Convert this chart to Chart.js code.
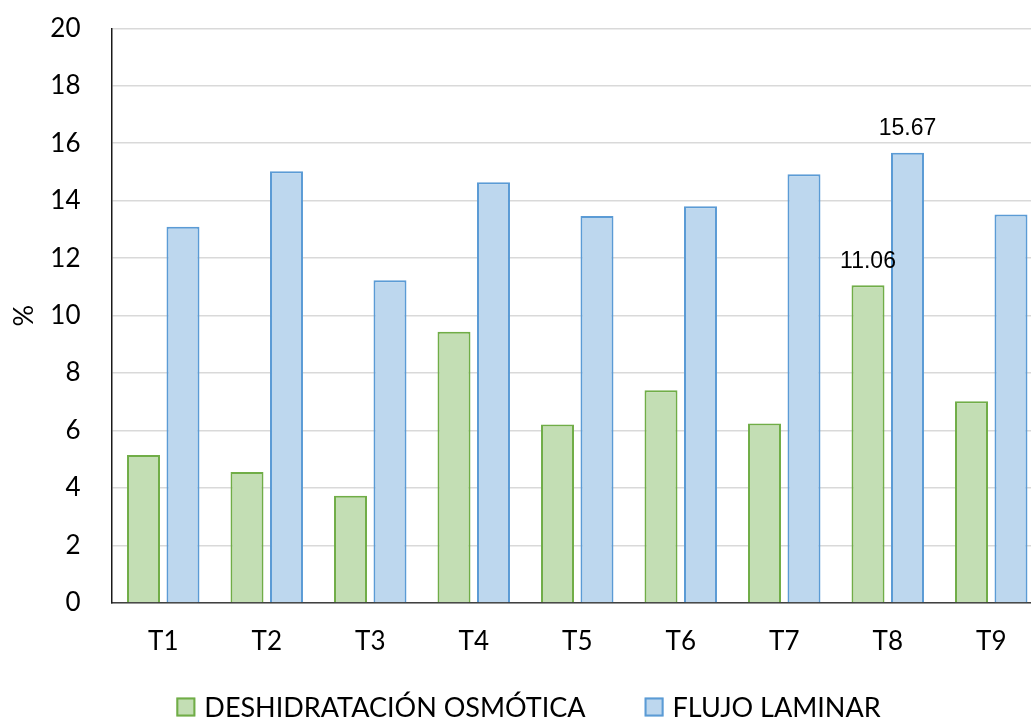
<!DOCTYPE html>
<html>
<head>
<meta charset="utf-8">
<script src="https://cdn.jsdelivr.net/npm/chart.js@4/dist/chart.umd.min.js"></script>
<style>
  html, body { margin: 0; padding: 0; background: #ffffff; overflow: hidden; }
  #wrap { width: 1031px; height: 720px; overflow: hidden; position: relative; }
  #c { position: absolute; left: -20px; top: 0; }
</style>
</head>
<body>
<div id="wrap"><canvas id="c" width="1066" height="720"></canvas></div>
<script>
// Treatments on the category axis
const categories = ['T1', 'T2', 'T3', 'T4', 'T5', 'T6', 'T7', 'T8', 'T9'];

// Percentage values per treatment
const deshidratacionOsmotica = [5.15, 4.56, 3.73, 9.44, 6.21, 7.40, 6.25, 11.06, 7.02];
const flujoLaminar = [13.09, 15.02, 11.23, 14.64, 13.47, 13.81, 14.92, 15.67, 13.52];

// Series names shown in the legend
const seriesNames = ['DESHIDRATACIÓN OSMÓTICA', 'FLUJO LAMINAR'];

// Value axis ticks
const yMin = 0;
const yMax = 20;
const yStep = 2;
const yTitle = '%';

// Treatment whose values are printed above the bars
const labeledCategory = 'T8';

const AXIS_FONT = 'Lato, "Open Sans", sans-serif';
const LABEL_FONT = '"Liberation Sans", Arial, sans-serif';
const CANVAS_SHIFT = 20; // canvas sits 20px left of the page edge

const seriesStyles = [
  { fill: '#C3DEB4', border: '#70AD47' },
  { fill: '#BDD7EE', border: '#5B9BD5' }
];

// Value labels above the bars of one category
const valueLabels = {
  id: 'valueLabels',
  afterDatasetsDraw(chart) {
    const ctx = chart.ctx;
    const idx = chart.data.labels.indexOf(labeledCategory);
    if (idx < 0) return;
    ctx.save();
    ctx.font = '23px ' + LABEL_FONT;
    ctx.fillStyle = '#000000';
    ctx.textAlign = 'center';
    ctx.textBaseline = 'middle';
    chart.data.datasets.forEach((ds, i) => {
      const bar = chart.getDatasetMeta(i).data[idx];
      const v = ds.data[idx];
      ctx.fillText(v.toFixed(2), bar.x, bar.y - 24);
    });
    ctx.restore();
  }
};

// Legend row under the axis
const bottomLegend = {
  id: 'bottomLegend',
  afterDraw(chart) {
    const ctx = chart.ctx;
    const box = 19, gap = 9, itemGap = 59;
    const cy = 707;
    const centerX = 528.5 + CANVAS_SHIFT;
    ctx.save();
    ctx.font = '27px ' + AXIS_FONT;
    ctx.textBaseline = 'middle';
    ctx.textAlign = 'left';
    const items = chart.data.datasets.map(ds => ({
      ds, w: ctx.measureText(ds.label).width
    }));
    const total = items.reduce((s, it) => s + box + gap + it.w, 0) + itemGap * (items.length - 1);
    let x = centerX - total / 2;
    items.forEach(it => {
      ctx.fillStyle = it.ds.backgroundColor;
      ctx.fillRect(x, cy - box / 2, box, box);
      ctx.strokeStyle = it.ds.borderColor;
      ctx.lineWidth = 2;
      ctx.strokeRect(x + 1, cy - box / 2 + 1, box - 2, box - 2);
      ctx.fillStyle = '#000000';
      ctx.fillText(it.ds.label, x + box + gap, cy + 1);
      x += box + gap + it.w + itemGap;
    });
    ctx.restore();
  }
};

new Chart(document.getElementById('c'), {
  type: 'bar',
  data: {
    labels: categories,
    datasets: [
      {
        label: seriesNames[0],
        data: deshidratacionOsmotica,
        backgroundColor: seriesStyles[0].fill,
        borderColor: seriesStyles[0].border,
        borderWidth: 2,
        categoryPercentage: 0.763,
        barPercentage: 0.835
      },
      {
        label: seriesNames[1],
        data: flujoLaminar,
        backgroundColor: seriesStyles[1].fill,
        borderColor: seriesStyles[1].border,
        borderWidth: 2,
        categoryPercentage: 0.763,
        barPercentage: 0.835
      }
    ]
  },
  options: {
    responsive: false,
    animation: false,
    devicePixelRatio: 1,
    layout: { padding: { left: 28, right: 3, top: 28.25, bottom: 57 } },
    plugins: {
      legend: { display: false },
      tooltip: { enabled: false }
    },
    scales: {
      x: {
        grid: { display: false, drawTicks: false },
        border: { display: true, color: '#404040', width: 1.5 },
        ticks: {
          color: '#000000',
          font: { family: AXIS_FONT, size: 26 },
          padding: 23
        },
        afterFit(scale) { scale.height = 60; }
      },
      y: {
        min: yMin,
        max: yMax,
        grid: {
          color: '#D9D9D9',
          lineWidth: 1.5,
          drawTicks: true,
          tickLength: 31,
          tickColor: 'rgba(0,0,0,0)'
        },
        border: { display: true, color: '#1a1a1a', width: 1.5 },
        ticks: {
          stepSize: yStep,
          color: '#000000',
          font: { family: AXIS_FONT, size: 26 },
          padding: 0
        },
        title: {
          display: true,
          text: yTitle,
          color: '#000000',
          font: { family: AXIS_FONT, size: 27 },
          padding: 0
        },
        afterFit(scale) { scale.width = 103.5; }
      }
    }
  },
  plugins: [valueLabels, bottomLegend]
});
</script>
</body>
</html>
